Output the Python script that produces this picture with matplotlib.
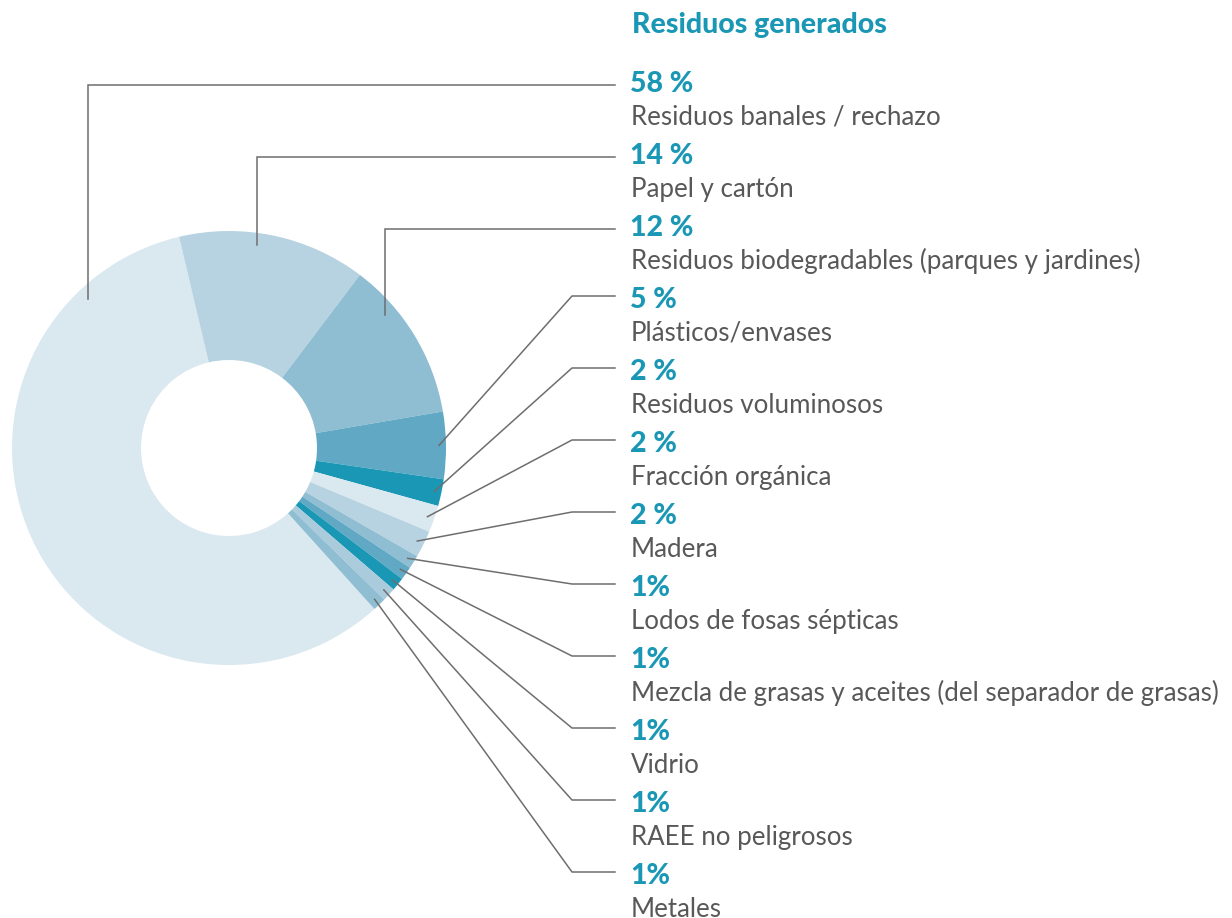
import numpy as np
import matplotlib
matplotlib.use("Agg")
import matplotlib.pyplot as plt

W, H = 1232, 918

pcts = [58, 14, 12, 5, 2, 2, 2, 1, 1, 1, 1, 1]
pct_labels = ["58 %", "14 %", "12 %", "5 %", "2 %", "2 %", "2 %", "1%", "1%", "1%", "1%", "1%"]
names = ["Residuos banales / rechazo", "Papel y cartón",
         "Residuos biodegradables (parques y jardines)", "Plásticos/envases",
         "Residuos voluminosos", "Fracción orgánica", "Madera",
         "Lodos de fosas sépticas", "Mezcla de grasas y aceites (del separador de grasas)",
         "Vidrio", "RAEE no peligrosos", "Metales"]
colors = ["#dae8f0", "#b7d3e1", "#8fbdd2", "#60a8c4", "#1b97b6", "#dae8f0",
          "#b7d3e1", "#8fbdd2", "#60a8c4", "#1b97b6", "#a9cbdc", "#8fbdd2"]

teal = "#1b97b6"
gray = "#585858"
line_c = "#6e6e6e"

# pie geometry (pixels)
cx, cy = 229, 448
R, r_in = 217, 88
start = 103.3 + pcts[0] * 3.6   # big slice runs counter-clockwise from the top

fig = plt.figure(figsize=(W / 100, H / 100), dpi=100)
ax = fig.add_axes([0, 0, 1, 1])
ax.pie(pcts, colors=colors, startangle=start, counterclock=False, radius=R,
       center=(cx, H - cy), wedgeprops=dict(width=R - r_in, edgecolor="none", linewidth=0))
ax.set_xlim(0, W)
ax.set_ylim(0, H)
ax.set_aspect("equal")
ax.axis("off")

# title
ax.text(632, H - 33, "Residuos generados", fontsize=20.5, fontweight=900,
        color=teal, family="Lato", va="baseline", ha="left")

step = 72
base0 = 92
vert_x = [88, 257, 385]  # vertical leaders for the big slices

cum = np.cumsum([0] + pcts)
for i, (p, name) in enumerate(zip(pct_labels, names)):
    b = base0 + step * i
    ax.text(630, H - b, p, fontsize=20.5, fontweight=900, color=teal,
            family="Lato", va="baseline", ha="left")
    ax.text(631, H - (b + 33), name, fontsize=18.6, color=gray,
            family="Lato", va="baseline", ha="left")
    if i < len(vert_x):
        ly = b - 7
        x0 = vert_x[i]
        dx = x0 - cx
        y0 = cy - np.sqrt(205 ** 2 - dx ** 2)
        ax.plot([x0, x0, 615], [H - y0, H - ly, H - ly], color=line_c, lw=1.1,
                solid_joinstyle="miter")
    else:
        ly = b - 12
        mid = start - (cum[i] + pcts[i] / 2) / 100 * 360
        a = np.deg2rad(mid)
        x0 = cx + 210 * np.cos(a)
        y0 = cy - 210 * np.sin(a)
        ax.plot([x0, 572, 615], [H - y0, H - ly, H - ly], color=line_c, lw=1.1)

fig.savefig("out.png", dpi=100)
